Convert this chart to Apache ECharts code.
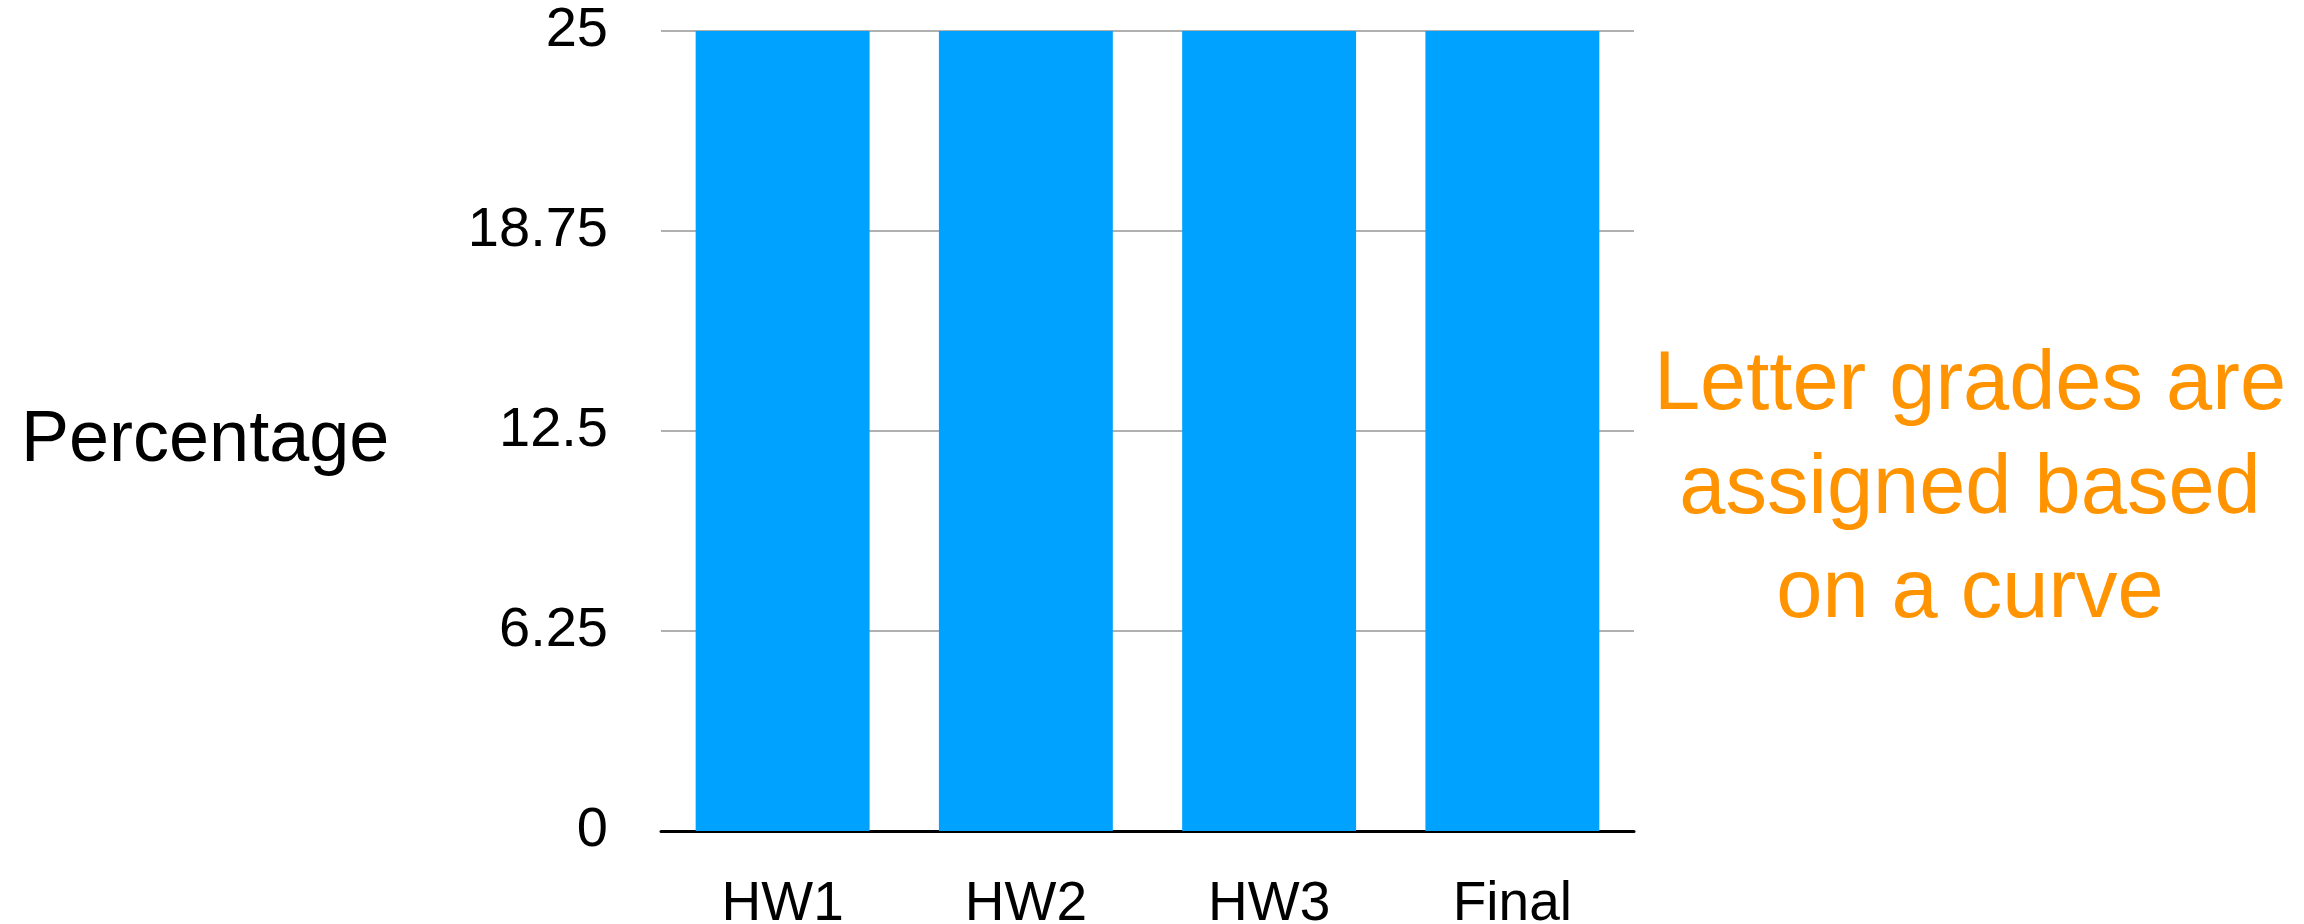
<!DOCTYPE html>
<html>
<head>
<meta charset="utf-8">
<title>Percentage by assignment</title>
<script src="https://cdn.jsdelivr.net/npm/echarts@6/dist/echarts.min.js"></script>
<style>
  html, body { margin: 0; padding: 0; background: #fff; }
  #main { width: 2304px; height: 924px; }
</style>
</head>
<body>
<div id="main"></div>
<script>
// data
var categories = ['HW1', 'HW2', 'HW3', 'Final'];
var weights = [25, 25, 25, 25];
var yTicks = [0, 6.25, 12.5, 18.75, 25];

var font = 'Helvetica Neue, Liberation Sans, Arial, sans-serif';
var chart = echarts.init(document.getElementById('main'));

var option = {
  animation: false,
  // keep the plot box fixed, labels may sit near the edge
  grid: { left: 661, right: 670, top: 31, bottom: 93, outerBoundsMode: 'none', containLabel: false },
  xAxis: {
    type: 'category',
    data: categories,
    axisTick: { show: false },
    axisLine: { lineStyle: { color: '#000', width: 3 } },
    axisLabel: { color: '#000', fontSize: 55, fontFamily: font, margin: 46 }
  },
  yAxis: {
    type: 'value',
    min: yTicks[0],
    max: yTicks[yTicks.length - 1],
    interval: yTicks[1] - yTicks[0],
    axisLine: { show: false },
    axisTick: { show: false },
    splitLine: { lineStyle: { color: '#b0b0b0', width: 2 } },
    axisLabel: { color: '#000', fontSize: 56, fontFamily: font, margin: 53 }
  },
  series: [{
    type: 'bar',
    data: weights,
    barCategoryGap: '28.5%',
    itemStyle: { color: '#00a2ff' }
  }],
  graphic: [
    {
      type: 'text',
      left: 21,
      top: 405,
      style: { text: 'Percentage', font: '72px ' + font, fill: '#000' }
    },
    {
      type: 'text',
      x: 1970,
      y: 490,
      style: {
        text: 'Letter grades are\nassigned based\non a curve',
        font: '83px ' + font,
        lineHeight: 104,
        fill: '#ff9300',
        align: 'center',
        verticalAlign: 'middle'
      }
    }
  ]
};

chart.setOption(option);
</script>
</body>
</html>
